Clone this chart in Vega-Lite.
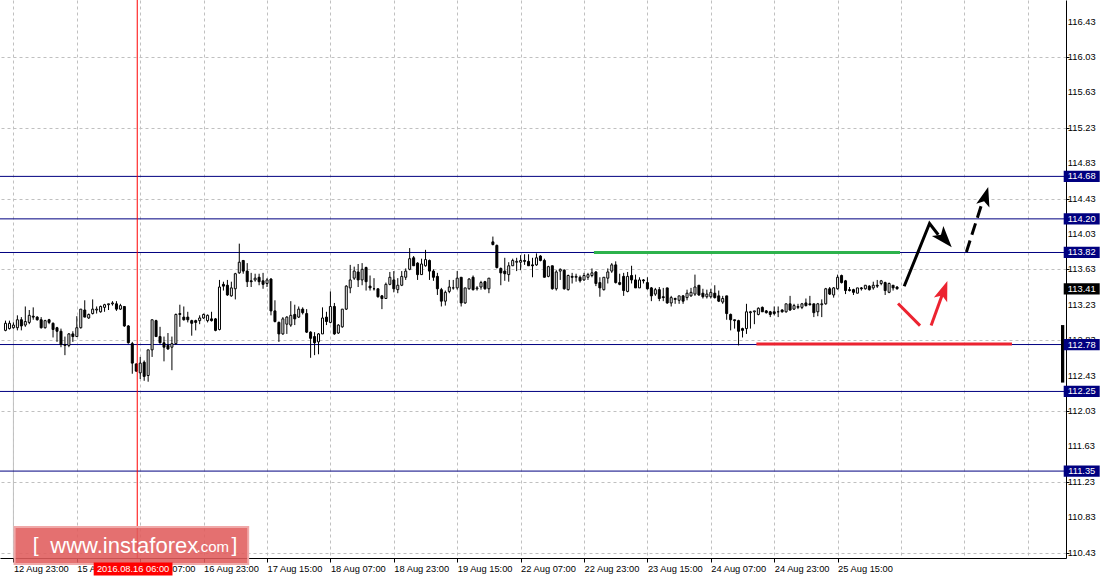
{
  "$schema": "https://vega.github.io/schema/vega-lite/v6.json",
  "width": 1066,
  "height": 558,
  "autosize": {"type": "none"},
  "padding": {"left": 0, "top": 0, "right": 51, "bottom": 20},
  "background": "white",
  "config": {"view": {"stroke": null}, "axis": {"labelOverlap": false, "labelFlush": false, "labelBound": false}},
  "datasets": {
    "candles": [
      {"i":-2,"o":112.94,"h":113.05,"l":112.93,"c":113.02},
      {"i":-1,"o":112.96,"h":113.05,"l":112.95,"c":113.02},
      {"i":0,"o":112.97,"h":113.03,"l":112.96,"c":113.00},
      {"i":1,"o":112.97,"h":113.11,"l":112.94,"c":113.06},
      {"i":2,"o":113.06,"h":113.09,"l":112.94,"c":112.99},
      {"i":3,"o":113.00,"h":113.21,"l":112.98,"c":113.04},
      {"i":4,"o":113.03,"h":113.17,"l":113.01,"c":113.11},
      {"i":5,"o":113.10,"h":113.20,"l":113.06,"c":113.09},
      {"i":6,"o":113.09,"h":113.10,"l":113.05,"c":113.06},
      {"i":7,"o":113.06,"h":113.09,"l":112.96,"c":112.97},
      {"i":8,"o":112.97,"h":113.06,"l":112.96,"c":113.05},
      {"i":9,"o":113.06,"h":113.07,"l":113.01,"c":113.03},
      {"i":10,"o":113.02,"h":113.03,"l":112.86,"c":112.95},
      {"i":11,"o":112.97,"h":112.98,"l":112.81,"c":112.93},
      {"i":12,"o":112.93,"h":112.96,"l":112.75,"c":112.78},
      {"i":13,"o":112.78,"h":112.87,"l":112.66,"c":112.77},
      {"i":14,"o":112.77,"h":112.91,"l":112.75,"c":112.90},
      {"i":15,"o":112.90,"h":112.93,"l":112.81,"c":112.87},
      {"i":16,"o":112.87,"h":113.10,"l":112.87,"c":112.97},
      {"i":17,"o":112.97,"h":113.18,"l":112.96,"c":113.18},
      {"i":18,"o":113.17,"h":113.28,"l":113.09,"c":113.09},
      {"i":19,"o":113.08,"h":113.13,"l":113.07,"c":113.12},
      {"i":20,"o":113.13,"h":113.29,"l":113.12,"c":113.18},
      {"i":21,"o":113.17,"h":113.21,"l":113.13,"c":113.18},
      {"i":22,"o":113.15,"h":113.22,"l":113.14,"c":113.21},
      {"i":23,"o":113.20,"h":113.24,"l":113.15,"c":113.23},
      {"i":24,"o":113.23,"h":113.24,"l":113.17,"c":113.24},
      {"i":25,"o":113.24,"h":113.27,"l":113.22,"c":113.25},
      {"i":26,"o":113.24,"h":113.27,"l":113.16,"c":113.18},
      {"i":27,"o":113.18,"h":113.24,"l":113.17,"c":113.22},
      {"i":28,"o":113.21,"h":113.21,"l":112.98,"c":112.99},
      {"i":29,"o":112.99,"h":113.00,"l":112.79,"c":112.80},
      {"i":30,"o":112.79,"h":112.81,"l":112.45,"c":112.57},
      {"i":31,"o":112.56,"h":112.57,"l":112.47,"c":112.48},
      {"i":32,"o":112.46,"h":112.64,"l":112.39,"c":112.57},
      {"i":33,"o":112.58,"h":112.60,"l":112.37,"c":112.42},
      {"i":34,"o":112.43,"h":112.72,"l":112.36,"c":112.72},
      {"i":35,"o":112.72,"h":113.06,"l":112.64,"c":113.06},
      {"i":36,"o":113.05,"h":113.06,"l":112.87,"c":112.87},
      {"i":37,"o":112.87,"h":112.98,"l":112.79,"c":112.80},
      {"i":38,"o":112.80,"h":112.87,"l":112.59,"c":112.75},
      {"i":39,"o":112.77,"h":112.91,"l":112.72,"c":112.73},
      {"i":40,"o":112.75,"h":112.87,"l":112.49,"c":112.79},
      {"i":41,"o":112.79,"h":113.13,"l":112.78,"c":113.12},
      {"i":42,"o":113.13,"h":113.23,"l":112.98,"c":113.12},
      {"i":43,"o":113.09,"h":113.21,"l":113.05,"c":113.06},
      {"i":44,"o":113.09,"h":113.15,"l":113.03,"c":113.06},
      {"i":45,"o":113.05,"h":113.06,"l":112.88,"c":113.02},
      {"i":46,"o":113.05,"h":113.06,"l":112.94,"c":113.03},
      {"i":47,"o":113.05,"h":113.11,"l":113.01,"c":113.08},
      {"i":48,"o":113.08,"h":113.13,"l":113.07,"c":113.12},
      {"i":49,"o":113.05,"h":113.12,"l":113.03,"c":113.11},
      {"i":50,"o":113.07,"h":113.15,"l":113.04,"c":113.05},
      {"i":51,"o":113.07,"h":113.08,"l":112.93,"c":112.94},
      {"i":52,"o":112.95,"h":113.51,"l":112.94,"c":113.43},
      {"i":53,"o":113.46,"h":113.49,"l":113.39,"c":113.44},
      {"i":54,"o":113.45,"h":113.51,"l":113.33,"c":113.34},
      {"i":55,"o":113.33,"h":113.49,"l":113.32,"c":113.42},
      {"i":56,"o":113.41,"h":113.59,"l":113.29,"c":113.58},
      {"i":57,"o":113.59,"h":113.92,"l":113.58,"c":113.71},
      {"i":58,"o":113.73,"h":113.73,"l":113.58,"c":113.61},
      {"i":59,"o":113.61,"h":113.70,"l":113.43,"c":113.49},
      {"i":60,"o":113.50,"h":113.59,"l":113.43,"c":113.49},
      {"i":61,"o":113.51,"h":113.58,"l":113.49,"c":113.53},
      {"i":62,"o":113.54,"h":113.58,"l":113.45,"c":113.49},
      {"i":63,"o":113.50,"h":113.59,"l":113.41,"c":113.46},
      {"i":64,"o":113.47,"h":113.53,"l":113.43,"c":113.51},
      {"i":65,"o":113.52,"h":113.53,"l":113.11,"c":113.16},
      {"i":66,"o":113.16,"h":113.28,"l":113.03,"c":113.04},
      {"i":67,"o":113.03,"h":113.04,"l":112.81,"c":112.90},
      {"i":68,"o":112.90,"h":113.09,"l":112.89,"c":113.07},
      {"i":69,"o":113.01,"h":113.10,"l":112.90,"c":113.09},
      {"i":70,"o":113.00,"h":113.27,"l":112.98,"c":113.11},
      {"i":71,"o":113.12,"h":113.23,"l":113.00,"c":113.07},
      {"i":72,"o":113.09,"h":113.21,"l":113.08,"c":113.18},
      {"i":73,"o":113.18,"h":113.20,"l":113.12,"c":113.14},
      {"i":74,"o":113.13,"h":113.18,"l":112.91,"c":112.92},
      {"i":75,"o":112.92,"h":112.93,"l":112.63,"c":112.85},
      {"i":76,"o":112.87,"h":112.92,"l":112.66,"c":112.80},
      {"i":77,"o":112.81,"h":112.91,"l":112.67,"c":112.90},
      {"i":78,"o":112.90,"h":113.20,"l":112.90,"c":113.08},
      {"i":79,"o":113.09,"h":113.15,"l":113.00,"c":113.04},
      {"i":80,"o":113.03,"h":113.38,"l":113.02,"c":113.21},
      {"i":81,"o":113.21,"h":113.25,"l":112.89,"c":112.90},
      {"i":82,"o":112.91,"h":113.01,"l":112.90,"c":113.00},
      {"i":83,"o":112.98,"h":113.18,"l":112.97,"c":113.18},
      {"i":84,"o":113.18,"h":113.45,"l":113.17,"c":113.44},
      {"i":85,"o":113.42,"h":113.68,"l":113.36,"c":113.51},
      {"i":86,"o":113.53,"h":113.66,"l":113.51,"c":113.61},
      {"i":87,"o":113.60,"h":113.69,"l":113.43,"c":113.51},
      {"i":88,"o":113.51,"h":113.70,"l":113.45,"c":113.63},
      {"i":89,"o":113.65,"h":113.66,"l":113.39,"c":113.49},
      {"i":90,"o":113.44,"h":113.56,"l":113.39,"c":113.42},
      {"i":91,"o":113.41,"h":113.53,"l":113.39,"c":113.41},
      {"i":92,"o":113.41,"h":113.41,"l":113.31,"c":113.32},
      {"i":93,"o":113.33,"h":113.34,"l":113.18,"c":113.30},
      {"i":94,"o":113.30,"h":113.48,"l":113.30,"c":113.46},
      {"i":95,"o":113.46,"h":113.60,"l":113.45,"c":113.54},
      {"i":96,"o":113.51,"h":113.61,"l":113.37,"c":113.41},
      {"i":97,"o":113.40,"h":113.53,"l":113.36,"c":113.45},
      {"i":98,"o":113.45,"h":113.61,"l":113.44,"c":113.55},
      {"i":99,"o":113.54,"h":113.64,"l":113.51,"c":113.61},
      {"i":100,"o":113.63,"h":113.87,"l":113.62,"c":113.75},
      {"i":101,"o":113.76,"h":113.78,"l":113.67,"c":113.67},
      {"i":102,"o":113.70,"h":113.71,"l":113.51,"c":113.57},
      {"i":103,"o":113.57,"h":113.75,"l":113.57,"c":113.69},
      {"i":104,"o":113.67,"h":113.85,"l":113.66,"c":113.74},
      {"i":105,"o":113.73,"h":113.74,"l":113.51,"c":113.61},
      {"i":106,"o":113.61,"h":113.63,"l":113.50,"c":113.54},
      {"i":107,"o":113.55,"h":113.59,"l":113.34,"c":113.41},
      {"i":108,"o":113.40,"h":113.42,"l":113.21,"c":113.27},
      {"i":109,"o":113.27,"h":113.39,"l":113.22,"c":113.37},
      {"i":110,"o":113.38,"h":113.51,"l":113.36,"c":113.43},
      {"i":111,"o":113.42,"h":113.51,"l":113.40,"c":113.42},
      {"i":112,"o":113.42,"h":113.61,"l":113.40,"c":113.53},
      {"i":113,"o":113.54,"h":113.54,"l":113.21,"c":113.25},
      {"i":114,"o":113.25,"h":113.42,"l":113.24,"c":113.42},
      {"i":115,"o":113.41,"h":113.53,"l":113.40,"c":113.52},
      {"i":116,"o":113.54,"h":113.56,"l":113.39,"c":113.40},
      {"i":117,"o":113.41,"h":113.44,"l":113.39,"c":113.42},
      {"i":118,"o":113.43,"h":113.50,"l":113.40,"c":113.48},
      {"i":119,"o":113.49,"h":113.50,"l":113.40,"c":113.41},
      {"i":120,"o":113.41,"h":113.53,"l":113.36,"c":113.53},
      {"i":121,"o":113.94,"h":114.00,"l":113.90,"c":113.91},
      {"i":122,"o":113.90,"h":113.91,"l":113.64,"c":113.65},
      {"i":123,"o":113.64,"h":113.65,"l":113.45,"c":113.59},
      {"i":124,"o":113.61,"h":113.76,"l":113.50,"c":113.58},
      {"i":125,"o":113.57,"h":113.71,"l":113.49,"c":113.67},
      {"i":126,"o":113.67,"h":113.75,"l":113.67,"c":113.73},
      {"i":127,"o":113.71,"h":113.76,"l":113.61,"c":113.72},
      {"i":128,"o":113.71,"h":113.79,"l":113.62,"c":113.73},
      {"i":129,"o":113.73,"h":113.80,"l":113.68,"c":113.72},
      {"i":130,"o":113.72,"h":113.80,"l":113.67,"c":113.67},
      {"i":131,"o":113.68,"h":113.76,"l":113.54,"c":113.67},
      {"i":132,"o":113.68,"h":113.81,"l":113.67,"c":113.76},
      {"i":133,"o":113.78,"h":113.79,"l":113.72,"c":113.73},
      {"i":134,"o":113.73,"h":113.75,"l":113.54,"c":113.54},
      {"i":135,"o":113.55,"h":113.67,"l":113.54,"c":113.66},
      {"i":136,"o":113.67,"h":113.67,"l":113.40,"c":113.41},
      {"i":137,"o":113.41,"h":113.62,"l":113.39,"c":113.60},
      {"i":138,"o":113.61,"h":113.64,"l":113.51,"c":113.63},
      {"i":139,"o":113.62,"h":113.63,"l":113.40,"c":113.41},
      {"i":140,"o":113.40,"h":113.57,"l":113.39,"c":113.56},
      {"i":141,"o":113.55,"h":113.59,"l":113.47,"c":113.54},
      {"i":142,"o":113.54,"h":113.58,"l":113.49,"c":113.55},
      {"i":143,"o":113.54,"h":113.56,"l":113.48,"c":113.50},
      {"i":144,"o":113.51,"h":113.59,"l":113.50,"c":113.56},
      {"i":145,"o":113.54,"h":113.59,"l":113.51,"c":113.57},
      {"i":146,"o":113.56,"h":113.64,"l":113.54,"c":113.59},
      {"i":147,"o":113.60,"h":113.61,"l":113.44,"c":113.47},
      {"i":148,"o":113.48,"h":113.54,"l":113.32,"c":113.42},
      {"i":149,"o":113.40,"h":113.54,"l":113.39,"c":113.54},
      {"i":150,"o":113.53,"h":113.64,"l":113.47,"c":113.60},
      {"i":151,"o":113.61,"h":113.70,"l":113.59,"c":113.68},
      {"i":152,"o":113.68,"h":113.72,"l":113.47,"c":113.48},
      {"i":153,"o":113.48,"h":113.58,"l":113.45,"c":113.46},
      {"i":154,"o":113.55,"h":113.59,"l":113.33,"c":113.39},
      {"i":155,"o":113.38,"h":113.60,"l":113.37,"c":113.55},
      {"i":156,"o":113.56,"h":113.67,"l":113.47,"c":113.51},
      {"i":157,"o":113.51,"h":113.57,"l":113.42,"c":113.42},
      {"i":158,"o":113.42,"h":113.54,"l":113.42,"c":113.51},
      {"i":159,"o":113.51,"h":113.52,"l":113.47,"c":113.50},
      {"i":160,"o":113.48,"h":113.54,"l":113.40,"c":113.41},
      {"i":161,"o":113.42,"h":113.43,"l":113.27,"c":113.33},
      {"i":162,"o":113.35,"h":113.42,"l":113.33,"c":113.40},
      {"i":163,"o":113.40,"h":113.43,"l":113.27,"c":113.30},
      {"i":164,"o":113.32,"h":113.42,"l":113.27,"c":113.31},
      {"i":165,"o":113.42,"h":113.42,"l":113.24,"c":113.25},
      {"i":166,"o":113.25,"h":113.33,"l":113.21,"c":113.31},
      {"i":167,"o":113.30,"h":113.31,"l":113.24,"c":113.29},
      {"i":168,"o":113.28,"h":113.33,"l":113.24,"c":113.33},
      {"i":169,"o":113.33,"h":113.34,"l":113.24,"c":113.27},
      {"i":170,"o":113.31,"h":113.40,"l":113.28,"c":113.36},
      {"i":171,"o":113.33,"h":113.42,"l":113.32,"c":113.37},
      {"i":172,"o":113.35,"h":113.57,"l":113.33,"c":113.43},
      {"i":173,"o":113.45,"h":113.45,"l":113.33,"c":113.34},
      {"i":174,"o":113.36,"h":113.41,"l":113.30,"c":113.32},
      {"i":175,"o":113.32,"h":113.40,"l":113.30,"c":113.35},
      {"i":176,"o":113.32,"h":113.41,"l":113.30,"c":113.37},
      {"i":177,"o":113.36,"h":113.45,"l":113.30,"c":113.31},
      {"i":178,"o":113.33,"h":113.39,"l":113.26,"c":113.27},
      {"i":179,"o":113.26,"h":113.33,"l":113.24,"c":113.30},
      {"i":180,"o":113.33,"h":113.33,"l":113.06,"c":113.13},
      {"i":181,"o":113.12,"h":113.13,"l":112.94,"c":113.06},
      {"i":182,"o":113.06,"h":113.06,"l":112.96,"c":113.05},
      {"i":183,"o":113.05,"h":113.06,"l":112.77,"c":112.93},
      {"i":184,"o":112.96,"h":112.97,"l":112.86,"c":112.94},
      {"i":185,"o":112.96,"h":113.24,"l":112.90,"c":113.15},
      {"i":186,"o":113.14,"h":113.16,"l":112.96,"c":113.15},
      {"i":187,"o":113.15,"h":113.16,"l":113.01,"c":113.16},
      {"i":188,"o":113.12,"h":113.20,"l":113.11,"c":113.19},
      {"i":189,"o":113.20,"h":113.21,"l":113.15,"c":113.15},
      {"i":190,"o":113.16,"h":113.17,"l":113.13,"c":113.14},
      {"i":191,"o":113.15,"h":113.16,"l":113.09,"c":113.12},
      {"i":192,"o":113.15,"h":113.21,"l":113.11,"c":113.13},
      {"i":193,"o":113.15,"h":113.21,"l":113.09,"c":113.15},
      {"i":194,"o":113.17,"h":113.18,"l":113.14,"c":113.15},
      {"i":195,"o":113.15,"h":113.24,"l":113.14,"c":113.24},
      {"i":196,"o":113.24,"h":113.33,"l":113.16,"c":113.17},
      {"i":197,"o":113.18,"h":113.24,"l":113.17,"c":113.22},
      {"i":198,"o":113.20,"h":113.24,"l":113.18,"c":113.21},
      {"i":199,"o":113.20,"h":113.25,"l":113.18,"c":113.24},
      {"i":200,"o":113.25,"h":113.30,"l":113.21,"c":113.22},
      {"i":201,"o":113.24,"h":113.33,"l":113.22,"c":113.23},
      {"i":202,"o":113.24,"h":113.24,"l":113.09,"c":113.14},
      {"i":203,"o":113.15,"h":113.25,"l":113.10,"c":113.24},
      {"i":204,"o":113.23,"h":113.29,"l":113.09,"c":113.24},
      {"i":205,"o":113.24,"h":113.42,"l":113.23,"c":113.41},
      {"i":206,"o":113.41,"h":113.43,"l":113.34,"c":113.35},
      {"i":207,"o":113.34,"h":113.43,"l":113.31,"c":113.42},
      {"i":208,"o":113.41,"h":113.57,"l":113.40,"c":113.54},
      {"i":209,"o":113.56,"h":113.57,"l":113.47,"c":113.48},
      {"i":210,"o":113.50,"h":113.51,"l":113.35,"c":113.39},
      {"i":211,"o":113.40,"h":113.43,"l":113.38,"c":113.39},
      {"i":212,"o":113.40,"h":113.41,"l":113.34,"c":113.37},
      {"i":213,"o":113.36,"h":113.42,"l":113.36,"c":113.42},
      {"i":214,"o":113.42,"h":113.43,"l":113.39,"c":113.41},
      {"i":215,"o":113.41,"h":113.45,"l":113.40,"c":113.45},
      {"i":216,"o":113.44,"h":113.45,"l":113.39,"c":113.40},
      {"i":217,"o":113.42,"h":113.49,"l":113.40,"c":113.45},
      {"i":218,"o":113.45,"h":113.51,"l":113.42,"c":113.44},
      {"i":219,"o":113.47,"h":113.51,"l":113.45,"c":113.50},
      {"i":220,"o":113.48,"h":113.49,"l":113.34,"c":113.39},
      {"i":221,"o":113.37,"h":113.48,"l":113.36,"c":113.47},
      {"i":222,"o":113.45,"h":113.45,"l":113.39,"c":113.42},
      {"i":223,"o":113.43,"h":113.44,"l":113.40,"c":113.41}
    ],
    "levels": [{"p":114.68},{"p":114.20},{"p":113.82},{"p":112.78},{"p":112.25},{"p":111.35}],
    "yticks": [{"p":116.43},{"p":116.03},{"p":115.63},{"p":115.23},{"p":114.83},{"p":114.43},{"p":114.03},{"p":113.63},{"p":113.23},{"p":112.83},{"p":112.43},{"p":112.03},{"p":111.63},{"p":111.23},{"p":110.83},{"p":110.43}]
  },
  "layer": [
    {
      "data": {"values": [{"p": 113.41}]},
      "mark": {"type": "rule", "color": "#c0c0c0", "strokeWidth": 1},
      "encoding": {
        "y": {
          "field": "p", "type": "quantitative",
          "scale": {"domain": [110.368, 116.673], "nice": false, "zero": false},
          "axis": {
            "orient": "right", "title": null,
            "values": [116.43,116.03,115.63,115.23,114.83,114.43,114.03,113.63,113.23,112.83,112.43,112.03,111.63,111.23,110.83,110.43],
            "labels": false, "tickSize": 3, "tickColor": "#000000", "domainColor": "#000000",
            "grid": true, "gridDash": [3, 3], "gridColor": "#c0c0c0"
          }
        },
        "x": {"datum": 0, "type": "quantitative",
          "scale": {"domain": [-2.125, 264.375], "nice": false, "zero": false},
          "axis": {
            "orient": "bottom", "title": null,
            "values": [0,8,16,24,32,40,48,56,64,72,80,88,96,104,112,120,128,136,144,152,160,168,176,184,192,200,208,216,224,232,240,248,256],
            "labelExpr": "(datum.value % 16 === 0 && datum.value <= 208) ? ['12 Aug 23:00','15 Aug 15:00','16 Aug 07:00','16 Aug 23:00','17 Aug 15:00','18 Aug 07:00','18 Aug 23:00','19 Aug 15:00','22 Aug 07:00','22 Aug 23:00','23 Aug 15:00','24 Aug 07:00','24 Aug 23:00','25 Aug 15:00'][datum.value / 16] : ''",
            "tickOpacity": {"condition": {"test": "datum.value % 16 === 0 && datum.value <= 208", "value": 1}, "value": 0},
            "tickSize": 4, "tickColor": "#000000", "domainColor": "#000000",
            "labelAlign": "left", "labelBaseline": "top", "labelPadding": 2,
            "labelFont": "Liberation Sans", "labelFontSize": 9.3, "labelColor": "#000000",
            "labelOverlap": false, "labelFlush": false, "labelBound": false,
            "grid": true, "gridDash": [3, 3], "gridColor": "#c0c0c0"
          }
        }
      }
    },
    {
      "data": {"name": "yticks"},
      "mark": {"type": "text", "font": "Liberation Sans", "fontSize": 9.3, "color": "#000000", "align": "left", "baseline": "middle"},
      "encoding": {"x": {"datum": 266.1, "type": "quantitative"}, "y": {"field": "p", "type": "quantitative"}, "text": {"field": "p", "type": "quantitative", "format": ".2f"}}
    },
    {
      "data": {"name": "levels"},
      "mark": {"type": "rule", "color": "#000080", "strokeWidth": 1},
      "encoding": {"y": {"field": "p", "type": "quantitative"}}
    },
    {
      "data": {"name": "candles"},
      "mark": {"type": "rule", "color": "#000000", "strokeWidth": 1},
      "encoding": {
        "x": {"field": "i", "type": "quantitative"},
        "y": {"field": "l", "type": "quantitative"},
        "y2": {"field": "h"}
      }
    },
    {
      "data": {"name": "candles"},
      "mark": {"type": "bar", "width": 2, "stroke": "#000000", "strokeWidth": 1},
      "encoding": {
        "x": {"field": "i", "type": "quantitative"},
        "y": {"field": "o", "type": "quantitative"},
        "y2": {"field": "c"},
        "fill": {"condition": {"test": "datum.c > datum.o", "value": "#ffffff"}, "value": "#000000"}
      }
    },
    {
      "data": {"values": [{"i": 31.25}]},
      "mark": {"type": "rule", "color": "#ff0000", "strokeWidth": 1},
      "encoding": {"x": {"field": "i", "type": "quantitative"}}
    },
    {
      "data": {"values": [{"i1": 146.5, "i2": 223.75, "p": 113.82}]},
      "mark": {"type": "rule", "color": "#2db24c", "strokeWidth": 3},
      "encoding": {"x": {"field": "i1", "type": "quantitative"}, "x2": {"field": "i2"}, "y": {"field": "p", "type": "quantitative"}}
    },
    {
      "data": {"values": [{"i1": 187.5, "i2": 252, "p": 112.785}]},
      "mark": {"type": "rule", "color": "#ec2330", "strokeWidth": 3},
      "encoding": {"x": {"field": "i1", "type": "quantitative"}, "x2": {"field": "i2"}, "y": {"field": "p", "type": "quantitative"}}
    },
    {
      "data": {"values": [{"k": 1, "i": 224.8, "p": 113.438}, {"k": 2, "i": 231.2, "p": 114.147}, {"k": 3, "i": 233.4, "p": 114.02}]},
      "mark": {"type": "line", "color": "#000000", "strokeWidth": 3},
      "encoding": {"x": {"field": "i", "type": "quantitative"}, "y": {"field": "p", "type": "quantitative"}, "order": {"field": "k"}}
    },
    {
      "data": {"values": [{"i": 236.8, "p": 113.88}]},
      "mark": {"type": "point", "shape": "M0,0L0.6,1.7L0,1.3L-0.6,1.7Z", "size": 640, "angle": 139, "filled": true, "opacity": 1, "color": "#000000", "strokeWidth": 0},
      "encoding": {"x": {"field": "i", "type": "quantitative"}, "y": {"field": "p", "type": "quantitative"}}
    },
    {
      "data": {"values": [{"k": 1, "i": 240.5, "p": 113.826}, {"k": 2, "i": 244.6, "p": 114.40}]},
      "mark": {"type": "line", "color": "#000000", "strokeWidth": 3, "strokeDash": [12, 6]},
      "encoding": {"x": {"field": "i", "type": "quantitative"}, "y": {"field": "p", "type": "quantitative"}, "order": {"field": "k"}}
    },
    {
      "data": {"values": [{"i": 246.0, "p": 114.56}]},
      "mark": {"type": "point", "shape": "M0,0L0.6,1.7L0,1.3L-0.6,1.7Z", "size": 520, "angle": 16, "filled": true, "opacity": 1, "color": "#000000", "strokeWidth": 0},
      "encoding": {"x": {"field": "i", "type": "quantitative"}, "y": {"field": "p", "type": "quantitative"}}
    },
    {
      "data": {"values": [{"k": 1, "i": 223.25, "p": 113.243}, {"k": 2, "i": 228.8, "p": 112.994}]},
      "mark": {"type": "line", "color": "#ec2330", "strokeWidth": 3},
      "encoding": {"x": {"field": "i", "type": "quantitative"}, "y": {"field": "p", "type": "quantitative"}, "order": {"field": "k"}}
    },
    {
      "data": {"values": [{"k": 1, "i": 231.6, "p": 112.994}, {"k": 2, "i": 234.5, "p": 113.353}]},
      "mark": {"type": "line", "color": "#ec2330", "strokeWidth": 3},
      "encoding": {"x": {"field": "i", "type": "quantitative"}, "y": {"field": "p", "type": "quantitative"}, "order": {"field": "k"}}
    },
    {
      "data": {"values": [{"i": 235.7, "p": 113.498}]},
      "mark": {"type": "point", "shape": "M0,0L0.6,1.7L0,1.3L-0.6,1.7Z", "size": 560, "angle": 20, "filled": true, "opacity": 1, "color": "#ec2330", "strokeWidth": 0},
      "encoding": {"x": {"field": "i", "type": "quantitative"}, "y": {"field": "p", "type": "quantitative"}}
    },
    {
      "data": {"values": [{"i1": 0.3, "i2": 59.25, "p1": 110.718, "p2": 110.30}]},
      "mark": {"type": "rect", "fill": "#e05c5c", "fillOpacity": 0.88, "stroke": "#f0a8a8", "strokeWidth": 2},
      "encoding": {"x": {"field": "i1", "type": "quantitative"}, "x2": {"field": "i2"}, "y": {"field": "p1", "type": "quantitative"}, "y2": {"field": "p2"}}
    },
    {
      "data": {"values": [{"t": "[", "i": 5.6, "p": 110.50}, {"t": "]", "i": 55.8, "p": 110.50}]},
      "mark": {"type": "text", "font": "Liberation Sans", "fontSize": 21, "color": "#ffffff", "align": "center", "baseline": "middle"},
      "encoding": {"x": {"field": "i", "type": "quantitative"}, "y": {"field": "p", "type": "quantitative"}, "text": {"field": "t"}}
    },
    {
      "data": {"values": [{"t": "www.instaforex", "i": 9.3, "p": 110.50}]},
      "mark": {"type": "text", "font": "Liberation Sans", "fontSize": 22, "color": "#ffffff", "align": "left", "baseline": "middle"},
      "encoding": {"x": {"field": "i", "type": "quantitative"}, "y": {"field": "p", "type": "quantitative"}, "text": {"field": "t"}}
    },
    {
      "data": {"values": [{"t": ".com", "i": 46.2, "p": 110.49}]},
      "mark": {"type": "text", "font": "Liberation Sans", "fontSize": 15, "color": "#ffffff", "align": "left", "baseline": "middle"},
      "encoding": {"x": {"field": "i", "type": "quantitative"}, "y": {"field": "p", "type": "quantitative"}, "text": {"field": "t"}}
    },
    {
      "data": {"values": [{"t": "2016.08.16 06:00", "i": 30.2, "p": 110.244}]},
      "mark": {"type": "point", "shape": "M-3,-0.5H3V0.5H-3Z", "size": 690, "filled": true, "opacity": 1, "color": "#ff0000", "strokeWidth": 0},
      "encoding": {"x": {"field": "i", "type": "quantitative"}, "y": {"field": "p", "type": "quantitative"}}
    },
    {
      "data": {"values": [{"t": "2016.08.16 06:00", "i": 30.2, "p": 110.244}]},
      "mark": {"type": "text", "font": "Liberation Sans", "fontSize": 9.3, "color": "#ffffff", "align": "center", "baseline": "middle"},
      "encoding": {"x": {"field": "i", "type": "quantitative"}, "y": {"field": "p", "type": "quantitative"}, "text": {"field": "t"}}
    },
    {
      "data": {"values": [{"i1": 264.375, "i2": 265.2, "p1": 113.00, "p2": 112.35}]},
      "mark": {"type": "rect", "fill": "#000000"},
      "encoding": {"x": {"field": "i1", "type": "quantitative"}, "x2": {"field": "i2"}, "y": {"field": "p1", "type": "quantitative"}, "y2": {"field": "p2"}}
    },
    {
      "data": {"name": "levels"},
      "mark": {"type": "point", "shape": "M-1.6,-0.5H1.6V0.5H-1.6Z", "size": 506, "filled": true, "opacity": 1, "color": "#000080", "strokeWidth": 0},
      "encoding": {"x": {"datum": 269.6, "type": "quantitative"}, "y": {"field": "p", "type": "quantitative"}}
    },
    {
      "data": {"values": [{"p": 113.41}]},
      "mark": {"type": "point", "shape": "M-1.6,-0.5H1.6V0.5H-1.6Z", "size": 506, "filled": true, "opacity": 1, "color": "#000000", "strokeWidth": 0},
      "encoding": {"x": {"datum": 269.6, "type": "quantitative"}, "y": {"field": "p", "type": "quantitative"}}
    },
    {
      "data": {"values": [{"p":114.68},{"p":114.20},{"p":113.82},{"p":113.41},{"p":112.78},{"p":112.25},{"p":111.35}]},
      "mark": {"type": "text", "font": "Liberation Sans", "fontSize": 9.3, "color": "#ffffff", "align": "center", "baseline": "middle"},
      "encoding": {"x": {"datum": 269.6, "type": "quantitative"}, "y": {"field": "p", "type": "quantitative"}, "text": {"field": "p", "type": "quantitative", "format": ".2f"}}
    }
  ]
}
